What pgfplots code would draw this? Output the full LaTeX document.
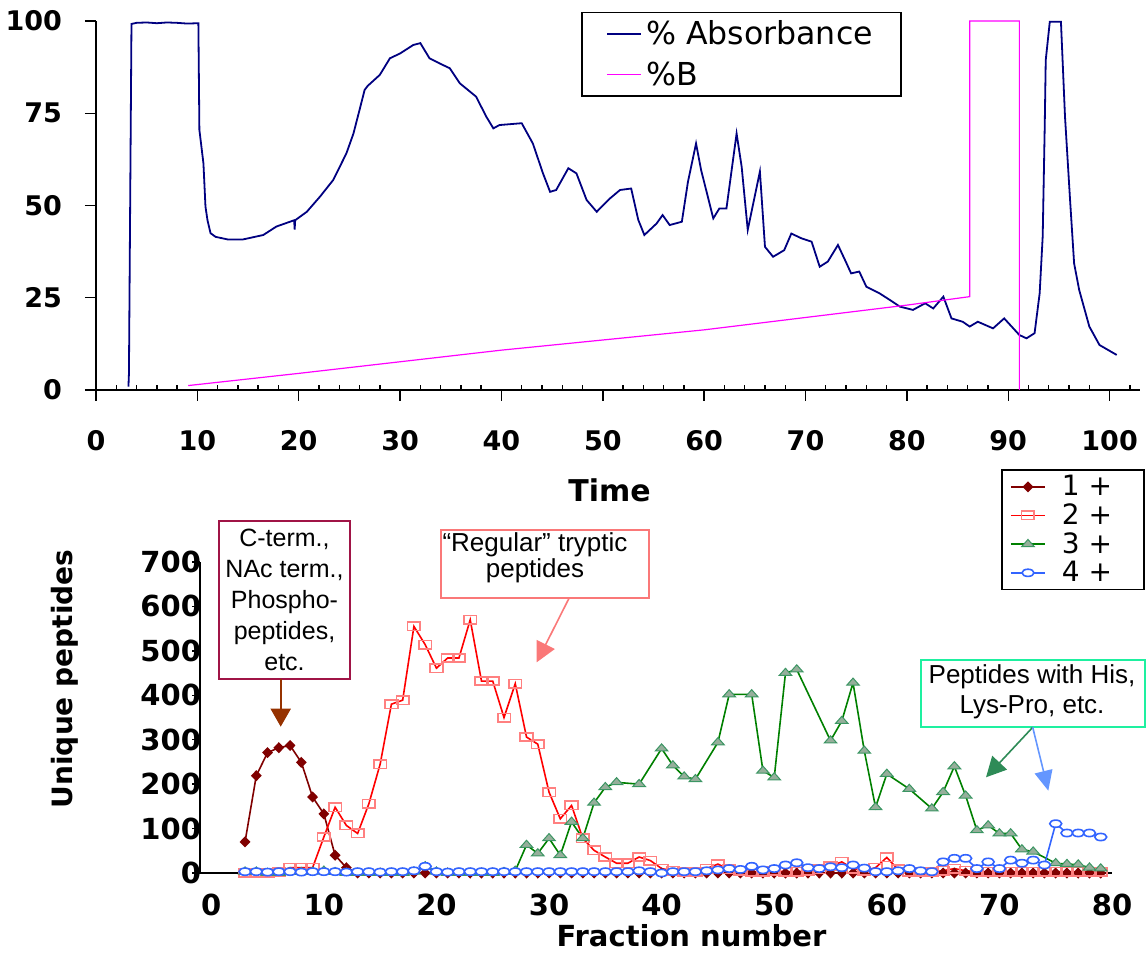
\documentclass[border=0pt]{standalone}
\usepackage{fontspec}
\setmainfont{DejaVu Sans}
\newfontfamily\arial{Liberation Sans}
\usepackage{pgfplots}
\pgfplotsset{compat=1.18}
\usetikzlibrary{arrows.meta}

\definecolor{absblue}{RGB}{0,0,128}
\definecolor{bmag}{RGB}{255,0,255}
\definecolor{cone}{RGB}{128,0,0}
\definecolor{ctwoline}{RGB}{255,0,0}
\definecolor{ctwomark}{RGB}{255,128,128}
\definecolor{cthreeline}{RGB}{0,128,0}
\definecolor{cthreefill}{RGB}{150,175,155}
\definecolor{cthreedraw}{RGB}{60,150,100}
\definecolor{cfour}{RGB}{50,100,255}
\definecolor{boxone}{RGB}{160,20,70}
\definecolor{arrone}{RGB}{150,50,0}
\definecolor{boxtwo}{RGB}{250,120,120}
\definecolor{boxthree}{RGB}{30,240,160}
\definecolor{arrg}{RGB}{46,139,87}
\definecolor{arrb}{RGB}{100,150,255}

\begin{document}
\begin{tikzpicture}
\path[use as bounding box] (0,0) rectangle (573pt,476.5pt);

% ---------------- top chromatogram ----------------
\begin{axis}[
  at={(48pt,281.5pt)}, anchor=south west,
  scale only axis, width=522pt, height=184.5pt,
  xmin=0, xmax=103, ymin=0, ymax=100,
  axis lines*=left, clip=false,
  axis line style={line width=0.8pt},
  xtick={0,10,...,100},
  minor xtick={2,4,6,8,12,14,16,18,22,24,26,28,32,34,36,38,42,44,46,48,52,54,56,58,62,64,66,68,72,74,76,78,82,84,86,88,92,94,96,98,102},
  ytick={0,25,50,75,100},
  tick align=outside,
  major tick length=5.5pt, minor tick length=2.5pt,
  tick style={line width=0.7pt, black},
  minor x tick style={yshift=2.5pt},
  /pgf/number format/assume math mode=true,
  ticklabel style={font=\bfseries\fontsize{13.5}{14}\selectfont},
  xticklabel style={anchor=center, yshift=-20pt},
  yticklabel style={anchor=east, xshift=-8pt},
  xlabel={Time},
  xlabel style={font=\bfseries\fontsize{15}{16}\selectfont, at={(axis description cs:0.492,-0.271)}, anchor=center},
  legend cell align=left,
  legend style={at={(axis description cs:0.7717,1.025)}, anchor=north east,
    draw=black, line width=0.8pt, font=\fontsize{15.8}{16}\selectfont,
    inner xsep=12pt, inner ysep=2pt, row sep=3pt},
]
\addplot[absblue, line width=0.9pt] coordinates {
(3.2,0.9)(3.25,4.4)(3.5,99.2)(4,99.5)(5,99.6)(6,99.4)(7,99.6)(8,99.5)(9,99.3)(10.1,99.4)
(10.2,70.5)(10.6,61.4)(10.8,49.7)(11.0,46)(11.3,42.5)(11.8,41.5)(13.0,40.8)(14.5,40.8)
(16.5,42)(17.8,44.3)(19.55,46)(19.6,43.5)(19.65,46)(20.8,48.3)(22.1,52.4)(23.4,56.9)
(24.7,64.1)(25.4,69.5)(26,75.9)(26.5,81.3)(26.8,82.4)(28,85.4)(29,89.9)(30,91.2)
(31.3,93.5)(32,94)(32.9,89.9)(33.9,88.5)(34.9,87.2)(35.9,83.1)(37.5,79.5)(38.5,74.1)
(39.2,70.9)(39.8,71.8)(42,72.3)(43.1,66.8)(44.1,58.7)(44.8,53.7)(45.4,54.2)(46.6,60.1)
(47.4,58.7)(48.4,51.5)(49.4,48.3)(50.7,51.9)(51.7,54.2)(52.8,54.6)(53.5,46.1)(54.1,42)
(55.3,45.1)(55.9,47.4)(56.6,44.7)(57.8,45.6)(58.4,56.4)(59.2,66.8)(59.7,59.6)(60.9,46.5)
(61.5,49.2)(62.2,49.2)(63.2,69.5)(63.7,60.5)(64.3,43.4)(65.5,59.2)(66,38.8)(66.8,36.1)
(67.9,37.9)(68.6,42.4)(69.6,41.1)(70.6,40.2)(71.4,33.4)(72.2,34.8)(73.2,39.3)(73.9,35.2)
(74.5,31.6)(75.3,32.1)(76,28)(77.3,26.2)(78.6,23.9)(79.3,22.6)(80.6,21.7)(81.8,23.5)
(82.6,22.1)(83.6,25.3)(84.4,19.4)(85.5,18.5)(86.2,17.2)(87,18.5)(88.5,16.7)(89.6,19.4)
(91.1,14.9)(91.8,14)(92.6,15.4)(93.1,26.2)(93.4,41.6)(93.6,71.4)(93.7,89.4)(94.1,99.8)
(95.2,99.8)(95.6,74.1)(96.1,51.5)(96.5,34.3)(97,27.1)(98,17.2)(99,12.2)(100.7,9.5)
};
\addlegendentry{\% Absorbance}
\addplot[bmag, line width=0.6pt] coordinates {
(9.1,1.2)(20,4.5)(40,10.8)(60,16.3)(80,23)(86.2,25.3)(86.2,100)(91.1,100)(91.1,0)
};
\addlegendentry{\%B}
\end{axis}

% ---------------- bottom fractions ----------------
\begin{axis}[
  at={(100pt,40pt)}, anchor=south west,
  scale only axis, width=456pt, height=155.5pt,
  xmin=-1, xmax=80, ymin=0, ymax=700,
  axis lines*=left, clip=false,
  axis line style={line width=0.8pt},
  xtick={0,10,...,80}, ytick={0,100,...,700},
  x tick style={draw=none},
  tick align=outside, major tick length=4pt,
  tick style={line width=0.7pt, black},
  /pgf/number format/assume math mode=true,
  ticklabel style={font=\bfseries\fontsize{14.5}{15}\selectfont},
  xticklabel style={anchor=center, yshift=-12pt},
  yticklabel style={anchor=east, xshift=8pt},
  xlabel={Fraction number},
  xlabel style={font=\bfseries\fontsize{14.5}{15}\selectfont, at={(axis description cs:0.539,-0.203)}, anchor=center},
  ylabel={Unique peptides},
  ylabel style={font=\bfseries\fontsize{14}{15}\selectfont, at={(axis description cs:-0.148,0.624)}, anchor=center},
  legend cell align=left,
  legend style={at={(axis description cs:1.036,1.298)}, anchor=north east,
    draw=black, line width=0.8pt, font=\fontsize{14}{14}\selectfont,
    inner xsep=4pt, inner ysep=0.5pt, row sep=-1.5pt,
    /tikz/every odd column/.append style={column sep=6pt}},
]
\addplot[cone, line width=0.8pt, mark=diamond*, mark size=2.2pt,
  mark options={fill=cone, draw=cone, xscale=1.3}] coordinates {
(3,70)(4,219)(5,271)(6,282)(7,287)(8,249)(9,171)(10,133)(11,40)(12,12)
(13,0)(14,0)(15,0)(16,0)(17,0)(18,0)(19,0)(20,0)(21,0)(22,0)(23,0)(24,0)(25,0)(26,0)
(27,0)(28,0)(29,0)(30,0)(31,0)(32,0)(33,0)(34,0)(35,0)(36,0)(37,0)(38,0)(39,0)(40,0)
(41,0)(42,0)(43,0)(44,0)(45,0)(46,0)(47,0)(48,0)(49,0)(50,0)(51,0)(52,0)(53,0)(54,0)
(55,0)(56,0)(57,0)(58,0)(59,0)(60,0)(61,0)(62,0)(63,0)(64,0)(65,0)(66,0)(67,0)(68,0)
(69,0)(70,0)(71,0)(72,0)(73,0)(74,0)(75,0)(76,0)(77,0)(78,0)(79,0)
};
\addlegendentry{1 +\hspace*{10pt}}
\addplot[ctwoline, line width=0.8pt, mark=square, mark size=2.1pt,
  mark options={draw=ctwomark, fill=white, xscale=1.5, line width=0.8pt}] coordinates {
(3,0)(4,0)(5,0)(6,3)(7,12)(8,12)(9,12)(10,81)(11,148)(12,107)(13,89)(14,156)(15,245)
(16,380)(17,389)(18,555)(19,514)(20,461)(21,484)(22,484)(23,570)(24,432)(25,432)
(26,350)(27,426)(28,306)(29,290)(30,182)(31,122)(32,152)(33,78)(34,51)(35,36)(36,22)
(37,22)(38,36)(39,28)(40,10)(41,5)(42,3)(43,3)(44,10)(45,20)(46,8)(47,5)(48,3)(49,3)
(50,5)(51,3)(52,3)(53,5)(54,8)(55,15)(56,25)(57,10)(58,5)(59,12)(60,35)(61,8)(62,3)
(63,3)(64,3)(65,5)(66,10)(67,5)(68,3)(69,3)(70,3)(71,3)(72,3)(73,3)(74,3)(75,3)(76,3)
(77,3)(78,3)(79,3)
};
\addlegendentry{2 +}
\addplot[cthreeline, line width=0.8pt, mark=triangle*, mark size=2.8pt,
  mark options={fill=cthreefill, draw=cthreedraw, xscale=1.3, yscale=0.85, line width=0.5pt}] coordinates {
(3,3)(4,3)(5,0)(6,0)(7,2)(8,2)(9,3)(10,5)(11,2)(12,0)(13,0)(14,0)(15,0)(16,0)(17,0)
(18,3)(19,15)(20,3)(21,0)(22,0)(23,0)(24,0)(25,0)(26,2)(27,5)(28,63)(29,44)(30,78)
(31,40)(32,115)(33,78)(34,158)(35,193)(36,204)(38,200)(40,280)(41,242)(42,217)
(43,211)(45,294)(46,402)(48,402)(49,230)(50,215)(51,450)(52,458)(55,298)(56,342)
(57,428)(58,275)(59,148)(60,223)(62,189)(64,145)(65,182)(66,240)(67,174)(68,96)
(69,107)(70,89)(71,89)(72,53)(73,48)(75,22)(76,20)(77,19)(78,12)(79,10)
};
\addlegendentry{3 +}
\addplot[cfour, line width=0.8pt, mark=*, mark size=2pt,
  mark options={fill=white, draw=cfour, xscale=1.5, yscale=0.9, line width=0.8pt}] coordinates {
(3,3)(4,3)(5,2)(6,3)(7,3)(8,2)(9,3)(10,3)(11,3)(12,2)(13,3)(14,3)(15,2)(16,3)(17,3)
(18,5)(19,15)(20,3)(21,2)(22,3)(23,3)(24,3)(25,3)(26,3)(27,3)(28,3)(29,3)(30,3)(31,3)
(32,3)(33,3)(34,3)(35,3)(36,3)(37,3)(38,5)(39,3)(40,0)(41,3)(42,3)(43,3)(44,5)(45,7)
(46,10)(47,8)(48,15)(49,7)(50,10)(51,18)(52,23)(53,12)(54,10)(55,14)(56,12)(57,18)
(58,11)(59,3)(60,3)(61,5)(62,10)(63,5)(64,3)(65,25)(66,33)(67,33)(68,10)(69,25)(70,10)
(71,29)(72,22)(73,29)(74,18)(75,111)(76,90)(77,90)(78,90)(79,81)
};
\addlegendentry{4 +}
\end{axis}

% ---------------- annotations ----------------
\node[draw=boxone, line width=0.85pt, minimum width=65.5pt, minimum height=79.3pt,
  align=center, inner sep=0pt, font=\arial\fontsize{12.5}{15.5}\selectfont]
  at (142.25pt,176.5pt) {C-term.,\\NAc term.,\\Phospho-\\peptides,\\etc.};
\draw[arrone, line width=1pt, -{Triangle[width=10pt,length=9pt]}]
  (140.35pt,136.85pt) -- (140.35pt,113.15pt);

\draw[boxtwo, line width=0.85pt] (220.35pt,177.35pt) rectangle (324.5pt,211.5pt);
\node[align=center, inner sep=0pt, font=\arial\fontsize{13}{11.7}\selectfont]
  at (267.5pt,197.5pt) {“Regular” tryptic\\peptides};
\draw[boxtwo, line width=0.8pt, -{Triangle[width=10pt,length=10pt]}]
  (284.5pt,177.35pt) -- (268.35pt,145.35pt);

\draw[boxthree, line width=0.85pt] (460.35pt,112.85pt) rectangle (572.5pt,146.5pt);
\node[align=center, inner sep=0pt, font=\arial\fontsize{13}{15}\selectfont]
  at (516pt,130.7pt) {Peptides with His,\\Lys-Pro, etc.};
\draw[arrg, line width=0.8pt, -{Triangle[width=10pt,length=10pt]}]
  (516.35pt,112.85pt) -- (493pt,87.85pt);
\draw[arrb, line width=0.8pt, -{Triangle[width=9pt,length=10pt]}]
  (516.35pt,112.85pt) -- (524.15pt,81.15pt);
\end{tikzpicture}
\end{document}
